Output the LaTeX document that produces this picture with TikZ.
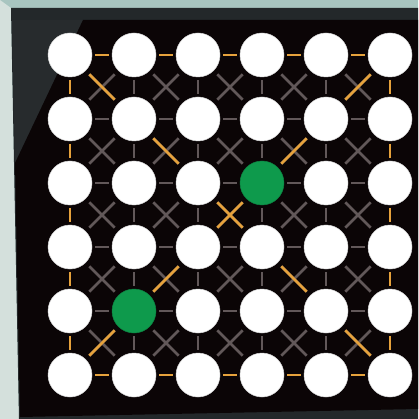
\documentclass[tikz,border=0pt]{standalone}
\usetikzlibrary{calc}
\definecolor{topteal}{HTML}{A8C5C0}
\definecolor{sidelight}{HTML}{D4E0DC}
\definecolor{framedark}{HTML}{23282A}
\definecolor{bevelgray}{HTML}{272B2D}
\definecolor{boardblack}{HTML}{0B0506}
\definecolor{linkgray}{HTML}{625859}
\definecolor{linkorange}{HTML}{E6A23C}
\definecolor{dotgreen}{HTML}{0E9A4C}
\tikzset{
	dot/.style={circle, fill=white, draw=black!15, line width=0.5pt,
		minimum size=44pt, inner sep=0pt},
	greendot/.style={fill=dotgreen, draw=dotgreen!85!black},
	g34/.style={greendot},
	g52/.style={greendot},
	link/.style={draw=linkgray, line width=2.6pt, shorten >=3pt, shorten <=3pt},
	diag/.style={link, shorten >=5pt, shorten <=5pt},
	hot/.style={draw=linkorange}
}

\begin{document}
\begin{tikzpicture}[x=1pt, y=-1pt]  % pixel units, y downwards

% frame and board
\useasboundingbox (0,0) rectangle (418,419);
\fill[topteal] (0,0) rectangle (418,419);
\fill[sidelight] (0,0) -- (11,8) -- (19,419) -- (0,419) -- cycle;
\fill[framedark] (11,8) -- (418,8) -- (418,419) -- (19,419) -- cycle;
\fill[bevelgray] (12,20) -- (83,20) -- (15,163) -- cycle;
\fill[boardblack] (83,20) -- (418,20) -- (418,409) -- (20,417) -- (15,163) -- cycle;

% dots
\foreach \r in {1,...,6} {
	\foreach \c in {1,...,6}
		\node[dot, /tikz/g\r\c/.try] (n\r\c) at ({70+64*(\c-1)},{55+64*(\r-1)}) {};
}

% grey links
\foreach \r [evaluate=\r as \s using int(\r+1)] in {1,...,5} {
	\foreach \c [evaluate=\c as \d using int(\c+1)] in {1,...,5} {
		\draw[diag] (n\r\c) -- (n\s\d);
		\draw[diag] (n\r\d) -- (n\s\c);
	}
}
\foreach \r in {1,...,6} {
	\foreach \c [evaluate=\c as \d using int(\c+1)] in {1,...,5} {
		\draw[link] (n\r\c) -- (n\r\d);
		\draw[link] (n\c\r) -- (n\d\r);
	}
}

% orange border
\foreach \c [evaluate=\c as \d using int(\c+1)] in {1,...,5} {
	\draw[link, hot] (n1\c) -- (n1\d);
	\draw[link, hot] (n6\c) -- (n6\d);
	\draw[link, hot] (n\c1) -- (n\d1);
	\draw[link, hot] (n\c6) -- (n\d6);
}

% orange diagonals
\draw[diag, hot] (n11) -- (n22);
\draw[diag, hot] (n25) -- (n16);
\draw[diag, hot] (n22) -- (n33);
\draw[diag, hot] (n34) -- (n25);
\draw[diag, hot] (n33) -- (n44);
\draw[diag, hot] (n43) -- (n34);
\draw[diag, hot] (n52) -- (n43);
\draw[diag, hot] (n44) -- (n55);
\draw[diag, hot] (n61) -- (n52);
\draw[diag, hot] (n55) -- (n66);

\end{tikzpicture}
\end{document}
